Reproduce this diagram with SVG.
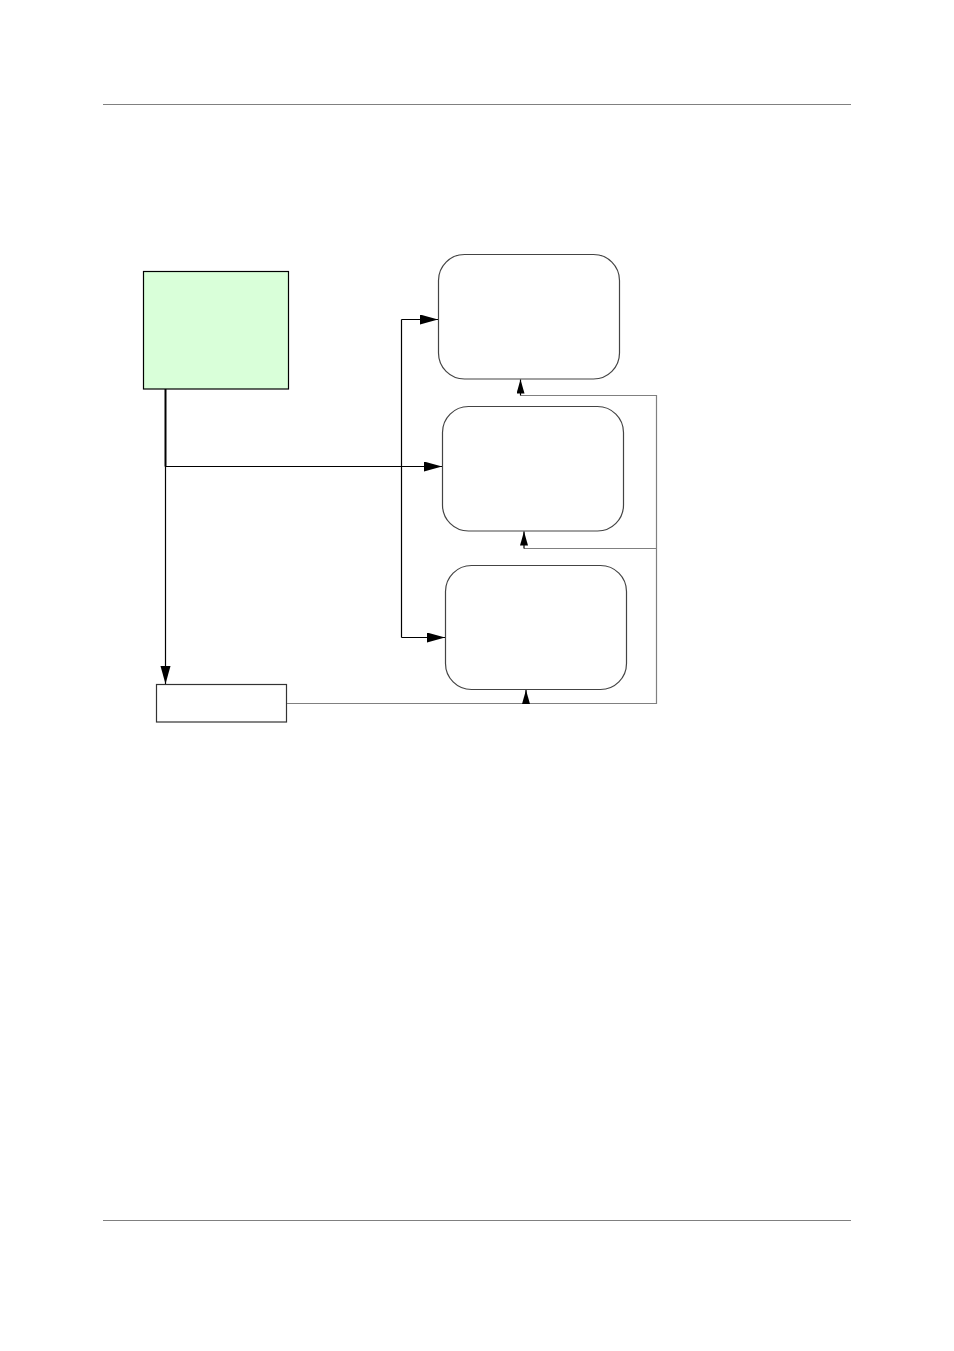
<svg xmlns="http://www.w3.org/2000/svg" width="954" height="1351" viewBox="0 0 954 1351">
<style>
.rule{stroke:#808080;stroke-width:1.2;fill:none}
.box{fill:#ffffff;stroke:#333333;stroke-width:1.2}
.rbox{fill:#ffffff;stroke:#444444;stroke-width:1.2}
.conn{stroke:#000000;stroke-width:1.2;fill:none}
.feed{stroke:#808080;stroke-width:1.2;fill:none}
</style>
<defs>
<marker id="ah" markerUnits="userSpaceOnUse" markerWidth="20" markerHeight="12" refX="18" refY="5" orient="auto">
<path d="M0,0 L18,5 L0,10 Z" fill="#000"/>
</marker>
<marker id="ahs" markerUnits="userSpaceOnUse" markerWidth="16" markerHeight="10" refX="14" refY="4" orient="auto">
<path d="M0,0 L14,4 L0,8 Z" fill="#000"/>
</marker>
</defs>
<rect width="954" height="1351" fill="#ffffff"/>
<line class="rule" x1="103" y1="104.5" x2="851" y2="104.5"/>
<line class="rule" x1="103" y1="1220.5" x2="851" y2="1220.5"/>
<g id="source">
<rect x="143.5" y="271.5" width="145" height="117.5" fill="#d9ffd9" stroke="#000" stroke-width="1.2"/>
</g>
<g id="target1">
<rect class="rbox" x="438.5" y="254.5" width="181" height="124.5" rx="26" ry="26"/>
</g>
<g id="target2">
<rect class="rbox" x="442.5" y="406.5" width="181" height="124.5" rx="26" ry="26"/>
</g>
<g id="target3">
<rect class="rbox" x="445.5" y="565.5" width="181" height="124" rx="26" ry="26"/>
</g>
<g id="sink">
<rect class="box" x="156.5" y="684.5" width="130" height="37.5"/>
</g>
<g id="connectors">
<line x1="165.5" y1="389" x2="165.5" y2="466.5" stroke="#000" stroke-width="2"/>
<path class="conn" d="M165.5,466.5 L442,466.5" marker-end="url(#ah)"/>
<path class="conn" d="M165.5,466 L165.5,684" marker-end="url(#ah)"/>
<path class="conn" d="M401.5,319.5 L401.5,637.5"/>
<path class="conn" d="M401.5,319.5 L438,319.5" marker-end="url(#ah)"/>
<path class="conn" d="M401.5,637.5 L445,637.5" marker-end="url(#ah)"/>
<path class="feed" d="M287,703.5 L656.5,703.5 L656.5,395.5 L520.5,395.5"/>
<path class="feed" d="M656.5,548.5 L524,548.5"/>
<path class="conn" d="M520.5,395.5 L520.5,379.5" marker-end="url(#ahs)"/>
<path class="conn" d="M524,548.5 L524,531.5" marker-end="url(#ahs)"/>
<path class="conn" d="M526,703.5 L526,690" marker-end="url(#ahs)"/>
</g>
</svg>
